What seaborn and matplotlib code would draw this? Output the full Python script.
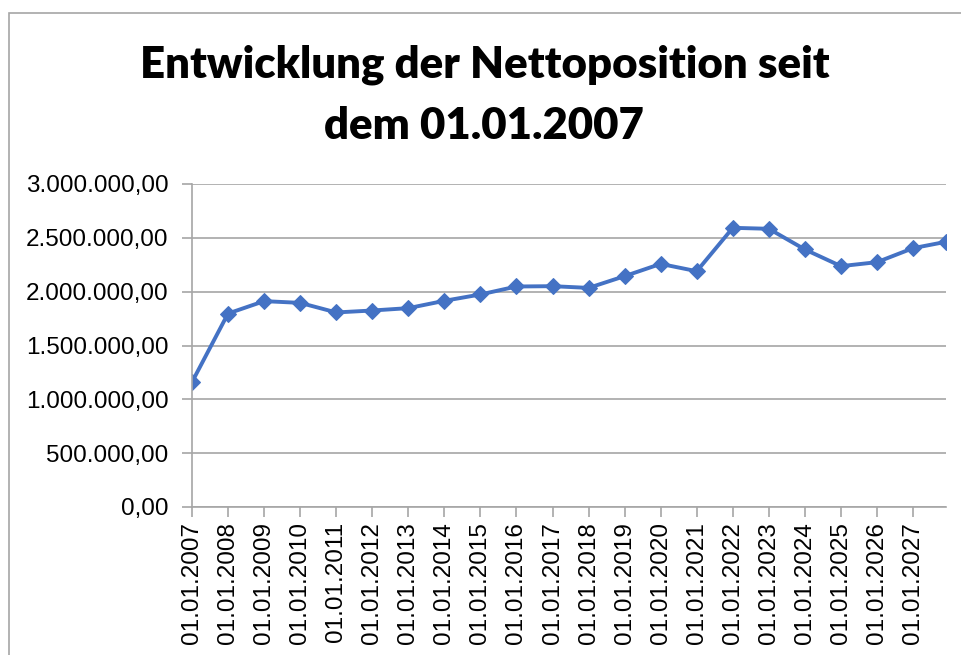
import pandas as pd
import seaborn as sns
import matplotlib.pyplot as plt
import matplotlib.dates as mdates
from matplotlib.ticker import FuncFormatter, MultipleLocator
from matplotlib.patches import Rectangle

# Daten
dates = ['2007-01-01', '2008-01-01', '2009-01-01', '2010-01-01', '2011-01-01',
         '2012-01-01', '2013-01-01', '2014-01-01', '2015-01-01', '2016-01-01',
         '2017-01-01', '2018-01-01', '2019-01-01', '2020-01-01', '2021-01-01',
         '2022-01-01', '2023-01-01', '2024-01-01', '2025-01-01', '2026-01-01',
         '2027-01-01', '2027-12-01']
netto = [1160000, 1797000, 1912000, 1896000, 1807000,
         1825000, 1847000, 1915000, 1974000, 2048000,
         2051000, 2035000, 2144000, 2258000, 2190000,
         2593000, 2584000, 2392000, 2237000, 2274000,
         2404000, 2463000]
title_lines = ['Entwicklung der Nettoposition seit', 'dem 01.01.2007']

df = pd.DataFrame({'Datum': pd.to_datetime(dates), 'Nettoposition': netto})

sns.set_style('white')
plt.rcParams['font.family'] = ['Liberation Sans', 'DejaVu Sans']

fig = plt.figure(figsize=(9.61, 6.55), dpi=100)
ax = fig.add_axes([192 / 961, 1 - 507 / 655, (946 - 192) / 961, (507 - 184) / 655])

sns.lineplot(data=df, x='Datum', y='Nettoposition', ax=ax, color='#4472C4',
             linewidth=2.8, marker='D', markersize=8, markeredgecolor='#4472C4')

ax.set_ylim(0, 3000000)
ax.set_xlim(df['Datum'].iloc[0], df['Datum'].iloc[-1])
ax.yaxis.set_major_locator(MultipleLocator(500000))
ax.yaxis.set_major_formatter(FuncFormatter(
    lambda v, p: f'{v:,.2f}'.replace(',', 'X').replace('.', ',').replace('X', '.')))
ax.xaxis.set_major_locator(mdates.YearLocator())
ax.xaxis.set_major_formatter(mdates.DateFormatter('%d.%m.%Y'))
plt.setp(ax.get_xticklabels(), rotation=90)

ax.grid(axis='y', color='#a6a6a6', linewidth=1.2)
ax.set_axisbelow(True)
ax.tick_params(axis='both', labelsize=17.5, colors='#a6a6a6', labelcolor='black',
               length=7, width=1.2, direction='out', pad=4)
ax.tick_params(axis='x', bottom=True)
ax.tick_params(axis='y', left=True, pad=10)
for s in ['top', 'right']:
    ax.spines[s].set_visible(False)
for s in ['left', 'bottom']:
    ax.spines[s].set_color('#a6a6a6')
    ax.spines[s].set_linewidth(1.2)
ax.set_xlabel('')
ax.set_ylabel('')

# Titel
fig.text(0.504, 1 - 65 / 655, title_lines[0], ha='center', va='center', color='black',
         fontsize=31.5, fontweight='heavy', family=['Lato', 'DejaVu Sans'])
fig.text(0.504, 1 - 126 / 655, title_lines[1], ha='center', va='center', color='black',
         fontsize=31.5, fontweight='heavy', family=['Lato', 'DejaVu Sans'])

# Rahmen des Diagramms
fig.patches.append(Rectangle((9 / 961, -0.1), 1.2, 1 - 13 / 655 + 0.1,
                             transform=fig.transFigure, fill=False,
                             edgecolor='#a6a6a6', linewidth=1.2))

fig.savefig('out.png', dpi=100)
